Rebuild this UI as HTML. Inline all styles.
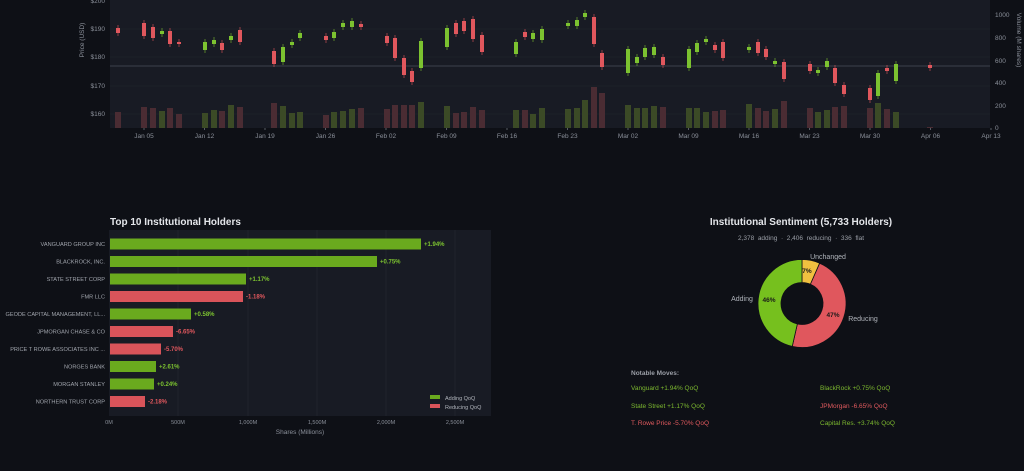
<!DOCTYPE html>
<html><head><meta charset="utf-8"><style>
html,body{margin:0;padding:0;background:#0e1016;}
svg{display:block;font-family:"Liberation Sans","DejaVu Sans",sans-serif;}
</style></head><body>
<svg id="s" width="1024" height="471" viewBox="0 0 1024 471" xmlns="http://www.w3.org/2000/svg">
<rect width="1024" height="471" fill="#0e1016"/>
<rect x="110" y="0" width="880" height="128" fill="#181b24"/>
<g stroke="#22262f" stroke-width="0.6">
<line x1="110" y1="29" x2="990" y2="29"/><line x1="110" y1="57" x2="990" y2="57"/><line x1="110" y1="86" x2="990" y2="86"/><line x1="110" y1="114" x2="990" y2="114"/>
</g>
<line x1="110" y1="66" x2="990" y2="66" stroke="#4a4f5a" stroke-width="0.8"/>
<g id="vol"></g><g id="cdl"></g>
<g font-size="6.5" fill="#8a8f99" text-anchor="end">
<text x="105" y="3">$200</text><text x="105" y="31">$190</text><text x="105" y="59">$180</text><text x="105" y="88">$170</text><text x="105" y="116">$160</text>
</g>
<text transform="translate(84,40) rotate(-90)" font-size="6.5" fill="#8a8f99" text-anchor="middle">Price (USD)</text>
<g font-size="6.5" fill="#8a8f99">
<text x="995" y="17">1000</text><text x="995" y="40">800</text><text x="995" y="63">600</text><text x="995" y="85">400</text><text x="995" y="108">200</text><text x="995" y="130">0</text>
</g>
<text transform="translate(1017,40) rotate(90)" font-size="6.5" fill="#8a8f99" text-anchor="middle">Volume (M shares)</text>
<g id="xt" font-size="6.5" fill="#8a8f99" text-anchor="middle"></g>

<!-- Bar chart -->
<text x="110" y="225" font-size="10" font-weight="bold" fill="#e4e6ea">Top 10 Institutional Holders</text>
<rect x="109" y="230" width="382" height="186" fill="#181b24"/>
<g stroke="#262a33" stroke-width="0.6">
<line x1="178" y1="230" x2="178" y2="416"/><line x1="248" y1="230" x2="248" y2="416"/><line x1="317" y1="230" x2="317" y2="416"/><line x1="386" y1="230" x2="386" y2="416"/><line x1="455" y1="230" x2="455" y2="416"/>
</g>
<g id="bars"></g>
<g font-size="5.5" fill="#8a8f99" text-anchor="middle">
<text x="109" y="424">0M</text><text x="178" y="424">500M</text><text x="248" y="424">1,000M</text><text x="317" y="424">1,500M</text><text x="386" y="424">2,000M</text><text x="455" y="424">2,500M</text>
</g>
<text x="300" y="434" font-size="6.5" fill="#8a8f99" text-anchor="middle">Shares (Millions)</text>
<rect x="430" y="395" width="10" height="4" fill="#6aaa1e"/><text x="445" y="400" font-size="5.5" fill="#b0b4bb">Adding QoQ</text>
<rect x="430" y="404" width="10" height="4" fill="#d9545a"/><text x="445" y="409" font-size="5.5" fill="#b0b4bb">Reducing QoQ</text>

<!-- Donut -->
<text x="801" y="225" font-size="10" font-weight="bold" fill="#e4e6ea" text-anchor="middle">Institutional Sentiment  (5,733 Holders)</text>
<text x="801" y="240" font-size="6.5" fill="#9a9ea6" text-anchor="middle" xml:space="preserve">2,378  adding  ·  2,406  reducing  ·  336  flat</text>
<g id="donut"></g>
<text x="828" y="259" font-size="7" fill="#b0b4bb" text-anchor="middle">Unchanged</text>
<text x="742" y="301" font-size="7" fill="#b0b4bb" text-anchor="middle">Adding</text>
<text x="863" y="321" font-size="7" fill="#b0b4bb" text-anchor="middle">Reducing</text>
<g font-size="6.5" font-weight="bold" fill="#1a1a1a" text-anchor="middle">
<text x="807" y="273">7%</text><text x="769" y="302">46%</text><text x="833" y="317">47%</text>
</g>
<text x="631" y="375" font-size="6.5" font-weight="bold" fill="#9a9ea6">Notable Moves:</text>
<g font-size="6.5" xml:space="preserve">
<text x="631" y="390" fill="#7cb82f">Vanguard  +1.94% QoQ</text>
<text x="820" y="390" fill="#7cb82f">BlackRock  +0.75% QoQ</text>
<text x="631" y="408" fill="#7cb82f">State Street  +1.17% QoQ</text>
<text x="820" y="408" fill="#e05a5e">JPMorgan  -6.65% QoQ</text>
<text x="631" y="425" fill="#e05a5e">T. Rowe Price  -5.70% QoQ</text>
<text x="820" y="425" fill="#7cb82f">Capital Res.  +3.74% QoQ</text>
</g>
</svg>
<script>
var NS="http://www.w3.org/2000/svg";
function el(p,t,a,txt){var e=document.createElementNS(NS,t);for(var k in a)e.setAttribute(k,a[k]);if(txt!=null)e.textContent=txt;document.getElementById(p).appendChild(e);return e;}
// candles: x, bodyTop, bodyBot, green?, volTop
var C=[[118,28,33,0,112],[144,23,36,0,107],[153,27,38,0,108],[162,31,34,1,111],[170,31,44,0,108],[179,42,44,0,114],
[205,42,50,1,113],[214,40,44,1,110],[222,43,50,0,111],[231,36,40,1,105],[240,30,42,0,107],
[274,51,64,0,103],[283,47,62,1,106],[292,42,45,1,113],[300,33,38,1,112],
[326,36,40,0,115],[334,32,38,1,112],[343,23,27,1,111],[352,21,27,1,109],[361,24,27,0,108],
[387,36,43,0,109],[395,38,58,0,105],[404,58,75,0,105],[412,71,82,0,105],[421,41,68,1,102],
[447,28,47,1,106],[456,23,34,0,113],[464,21,31,0,112],[473,19,39,0,107],[482,35,52,0,110],
[516,42,54,1,110],[525,32,37,0,110],[533,33,39,1,114],[542,29,40,1,108],
[568,23,26,1,109],[577,20,26,1,108],[585,13,17,1,100],[594,17,44,0,87],[602,53,67,0,93],
[628,49,73,1,105],[637,57,63,1,108],[645,48,57,1,108],[654,47,55,1,106],[663,57,65,0,107],
[689,49,68,1,108],[697,43,52,1,108],[706,39,42,1,112],[715,45,50,0,111],[723,42,58,0,110],
[749,47,50,1,104],[758,42,53,0,108],[766,49,57,0,111],[775,61,64,1,109],[784,62,79,0,101],
[810,64,71,0,108],[818,70,73,1,112],[827,61,67,1,110],[835,68,83,0,107],[844,85,94,0,106],
[870,88,100,0,108],[878,73,96,1,103],[887,68,71,0,109],[896,64,81,1,112],[930,65,68,0,127]];
C.forEach(function(c){
 var g=c[3];
 el("vol","rect",{x:c[0]-3,y:c[4],width:6,height:128-c[4],fill:g?"#3b4a26":"#4a2c33"});
 var col=g?"#7cc230":"#e0575d";
 el("cdl","line",{x1:c[0],x2:c[0],y1:c[1]-3,y2:c[2]+3,stroke:col,"stroke-width":0.6});
 el("cdl","rect",{x:c[0]-2,y:c[1],width:4,height:Math.max(2,c[2]-c[1]),fill:col});
});
var X=["Jan 05","Jan 12","Jan 19","Jan 26","Feb 02","Feb 09","Feb 16","Feb 23","Mar 02","Mar 09","Mar 16","Mar 23","Mar 30","Apr 06","Apr 13"];
X.forEach(function(t,i){var x=144+i*60.5;el("xt","text",{x:x,y:138},t);el("xt","line",{x1:x,x2:x,y1:128,y2:130,stroke:"#8a8f99","stroke-width":0.6});});
var B=[["VANGUARD GROUP INC",421,1,"+1.94%"],["BLACKROCK, INC.",377,1,"+0.75%"],["STATE STREET CORP",246,1,"+1.17%"],["FMR LLC",243,0,"-1.18%"],
["GEODE CAPITAL MANAGEMENT, LL...",191,1,"+0.58%"],["JPMORGAN CHASE & CO",173,0,"-6.65%"],["PRICE T ROWE ASSOCIATES INC ...",161,0,"-5.70%"],
["NORGES BANK",156,1,"+2.61%"],["MORGAN STANLEY",154,1,"+0.24%"],["NORTHERN TRUST CORP",145,0,"-2.18%"]];
B.forEach(function(b,i){var y=244+i*17.5;
 el("bars","rect",{x:110,y:y-5.5,width:b[1]-110,height:11,fill:b[2]?"#6aaa1e":"#d9545a"});
 el("bars","text",{x:105,y:y+2,"font-size":5.6,fill:"#a0a4ac","text-anchor":"end"},b[0]);
 el("bars","text",{x:b[1]+3,y:y+2,"font-size":6,"font-weight":"bold",fill:b[2]?"#7cc230":"#e0575d"},b[3]);
});
// donut
var cx=802,cy=303.5,R=44,r=21;
function arc(a0,a1,col){ // degrees clockwise from top
 function p(a,rad){var t=(a-90)*Math.PI/180;return [cx+rad*Math.cos(t),cy+rad*Math.sin(t)];}
 var l=(a1-a0)>180?1:0,A=p(a0,R),Bp=p(a1,R),Cp=p(a1,r),D=p(a0,r);
 el("donut","path",{d:"M"+A+" A"+R+","+R+" 0 "+l+" 1 "+Bp+" L"+Cp+" A"+r+","+r+" 0 "+l+" 0 "+D+"Z",fill:col,stroke:"#0e1016","stroke-width":0.8});
}
arc(0,23.7,"#f0c040");arc(23.7,192.8,"#e0575d");arc(192.8,360,"#76c01e");
</script>
</body></html>
